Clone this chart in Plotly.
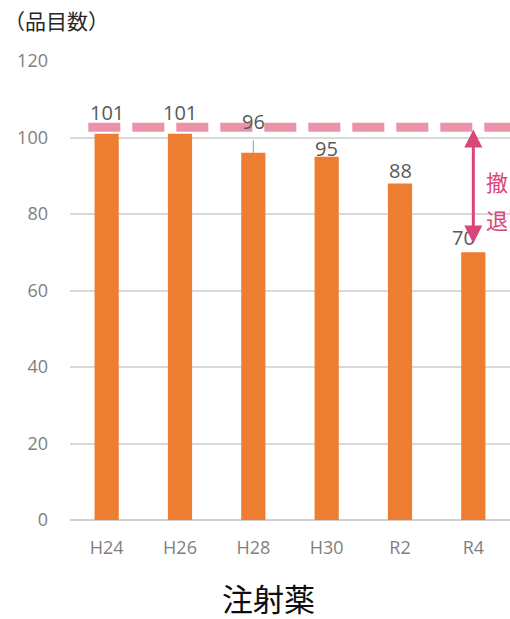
import plotly.graph_objects as go

# Number of injectable items listed per survey year
years = ["H24", "H26", "H28", "H30", "R2", "R4"]
counts = [101, 101, 96, 95, 88, 70]

# Reference level (starting count) shown as the dashed band
reference_level = 102.7
y_ticks = [0, 20, 40, 60, 80, 100, 120]

# Per-label pixel offsets so the value labels clear the dashed band
label_yshift = [21, 21, 31, 8, 13, 15]
label_xshift = [0, 0, 0, 0, 0, -10]

W, H = 510, 619
L, R, T, B = 70, 0, 61, 99
plot_w = W - L - R


def px_to_paper_x(px):
    return (px - L) / plot_w


def px_to_paper_y(py):
    return 1 - (py - T) / (H - T - B)


fig = go.Figure()
fig.add_trace(go.Bar(
    x=years, y=counts,
    marker=dict(color="#ED7D31", line=dict(width=0)),
    width=0.33,
    hoverinfo="skip",
))

# Value labels above bars
for i, (yr, v) in enumerate(zip(years, counts)):
    fig.add_annotation(
        x=yr, y=v, text=str(v), showarrow=False,
        yanchor="middle", xanchor="center",
        yshift=label_yshift[i], xshift=label_xshift[i],
        font=dict(family="Open Sans", size=20, color="#595959"),
    )

# Leader line for the H28 label
fig.add_shape(
    type="line", xref="x", yref="y",
    x0=2, x1=2, y0=counts[2], y1=counts[2] + 3.2,
    line=dict(color="#A6A6A6", width=1.2), layer="above",
)

# Dashed reference band
fig.add_shape(
    type="line", xref="x", yref="y",
    x0=-0.25, x1=5.6, y0=reference_level, y1=reference_level,
    line=dict(color="#EA92A8", width=9, dash="32px,12px"),
    layer="above",
)

# Double-headed arrow showing the decline to the latest year
fig.add_annotation(
    x=5, y=counts[-1] + 2.3, ax=5, ay=reference_level - 0.2,
    xref="x", yref="y", axref="x", ayref="y",
    text="", showarrow=True,
    arrowside="end+start", arrowhead=2, arrowsize=1.2,
    arrowwidth=3, arrowcolor="#D9467A",
)

for ch, py in [("撤", 181), ("退", 219)]:
    fig.add_annotation(
        xref="paper", yref="paper",
        x=px_to_paper_x(497), y=px_to_paper_y(py),
        text=ch, showarrow=False, xanchor="center", yanchor="middle",
        font=dict(family="Noto Sans CJK JP", size=22, color="#D9467A"),
    )

# Unit caption and category caption
fig.add_annotation(
    xref="paper", yref="paper",
    x=px_to_paper_x(2), y=px_to_paper_y(20),
    text="（品目数）", showarrow=False, xanchor="left", yanchor="middle",
    font=dict(family="Noto Sans CJK JP", size=21, color="#262626"),
)
fig.add_annotation(
    xref="paper", yref="paper",
    x=px_to_paper_x(268), y=px_to_paper_y(597),
    text="注射薬", showarrow=False, xanchor="center", yanchor="middle",
    font=dict(family="Noto Sans CJK JP", size=31, color="#0D0D0D"),
)

fig.update_layout(
    width=W, height=H,
    margin=dict(l=L, r=R, t=T, b=B, pad=0),
    paper_bgcolor="white", plot_bgcolor="white",
    showlegend=False,
    xaxis=dict(
        type="category", range=[-0.5, 5.5],
        showgrid=False, zeroline=False, showline=False,
        ticks="", ticklabelstandoff=15,
        tickfont=dict(family="Open Sans", size=18, color="#7F7F7F"),
        fixedrange=True,
    ),
    yaxis=dict(
        range=[0, 120], tickvals=y_ticks,
        showgrid=True, gridcolor="#D9D9D9", gridwidth=1.5,
        zeroline=True, zerolinecolor="#D0D0D0", zerolinewidth=1.5,
        showline=False, ticks="", ticklabelstandoff=21,
        tickfont=dict(family="Open Sans", size=18, color="#7F7F7F"),
        fixedrange=True,
    ),
)

fig.write_html("out.html")
